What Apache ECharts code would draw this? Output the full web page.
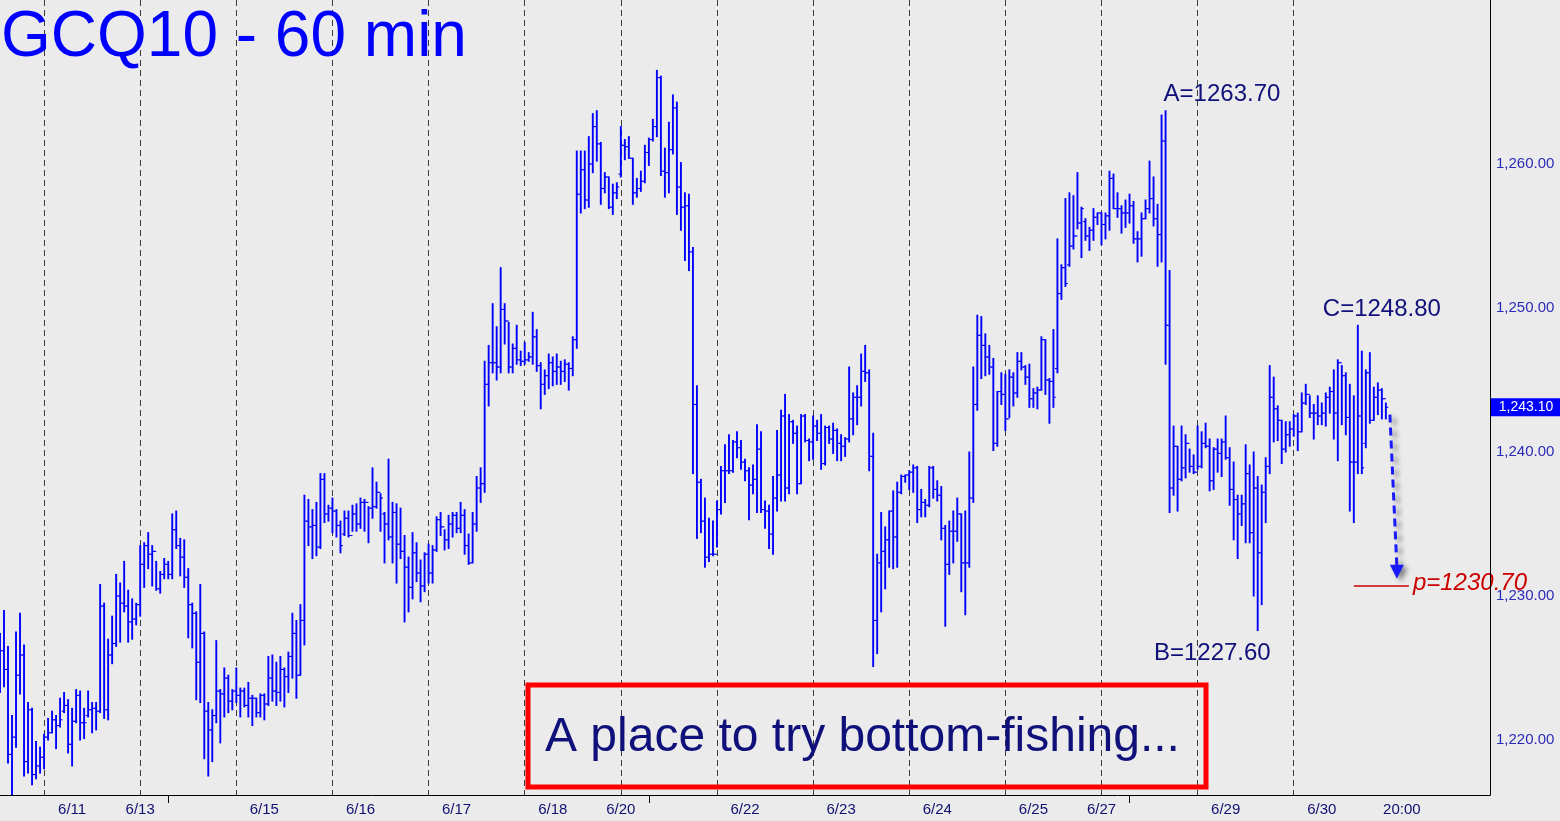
<!DOCTYPE html>
<html><head><meta charset="utf-8">
<script src="https://cdn.jsdelivr.net/npm/echarts@6/dist/echarts.min.js"></script>
<style>html,body{margin:0;padding:0;background:#ebebeb;}#chart{width:1560px;height:821px;}</style>
</head><body><div id="chart"></div>
<script>
// ---- data (hourly OHLC bars, index 0 = first visible bar) ----
const opens = [
1225.0,1226.2,1224.9,1219.0,1220.2,1224.5,1225.9,1218.5,1222.1,1217.6,
1218.2,1218.8,1220.2,1220.5,1221.4,1221.0,1222.0,1222.4,1219.7,1221.3,
1223.1,1221.2,1221.7,1222.1,1222.2,1222.0,1229.3,1222.1,1225.9,1226.7,
1230.0,1229.5,1229.3,1228.2,1228.4,1229.4,1232.2,1233.5,1232.9,1233.1,
1230.5,1231.5,1232.2,1231.5,1234.6,1233.5,1232.7,1231.3,1229.4,1228.8,
1225.4,1227.4,1222.0,1220.7,1221.7,1223.4,1223.2,1224.3,1222.7,1223.4,
1223.1,1223.4,1222.4,1222.9,1222.9,1221.9,1223.1,1222.5,1224.3,1223.4,
1223.3,1224.9,1224.4,1225.8,1227.4,1224.5,1228.3,1235.2,1234.8,1234.9,
1233.4,1238.1,1235.7,1236.1,1235.9,1234.9,1234.3,1235.4,1234.2,1235.7,
1235.0,1236.5,1236.5,1236.1,1236.2,1237.2,1235.7,1235.0,1234.1,1235.8,
1233.6,1233.1,1232.0,1230.6,1233.0,1231.6,1230.7,1232.9,1231.6,1233.2,
1235.3,1234.8,1233.9,1235.0,1235.6,1234.7,1235.6,1233.5,1232.3,1235.0,
1237.5,1237.8,1244.7,1246.2,1246.2,1245.9,1249.9,1249.1,1245.9,1247.2,
1246.4,1246.3,1246.4,1246.6,1248.0,1246.0,1244.7,1245.3,1246.2,1245.6,
1245.9,1245.6,1246.1,1245.8,1247.8,1257.9,1259.6,1257.5,1260.0,1262.6,
1261.4,1258.3,1259.1,1257.0,1258.0,1259.3,1261.3,1261.2,1260.4,1258.0,
1258.3,1258.8,1260.8,1261.7,1262.6,1266.0,1259.5,1259.4,1261.0,1263.9,
1258.4,1257.0,1257.1,1253.9,1243.3,1237.9,1235.2,1232.7,1232.9,1232.9,
1236.0,1238.7,1238.7,1238.7,1240.7,1240.3,1239.3,1238.7,1237.7,1238.1,
1240.2,1236.0,1235.9,1234.3,1236.8,1238.4,1242.5,1237.5,1242.1,1241.3,
1237.8,1242.5,1240.8,1240.7,1241.8,1241.3,1239.2,1241.7,1240.9,1241.5,
1240.6,1240.4,1240.9,1242.3,1243.8,1243.8,1245.6,1245.5,1239.7,1228.3,
1232.3,1233.1,1233.9,1235.9,1234.1,1237.2,1238.3,1238.4,1238.6,1238.9,
1236.0,1236.5,1236.3,1238.9,1237.4,1237.0,1234.7,1232.2,1234.5,1234.5,
1235.7,1232.3,1232.3,1236.8,1243.3,1248.1,1247.4,1246.6,1245.9,1240.6,
1244.2,1244.0,1242.3,1245.2,1244.1,1246.3,1245.9,1245.2,1243.7,1244.1,
1244.3,1247.8,1245.0,1244.9,1245.8,1251.0,1252.8,1253.0,1254.3,1255.0,
1255.9,1256.0,1255.0,1255.4,1256.3,1256.6,1255.8,1256.4,1259.0,1256.9,
1256.9,1256.6,1256.6,1257.1,1254.8,1254.8,1256.2,1256.9,1257.6,1256.2,
1255.1,1261.6,1248.8,1237.5,1240.4,1238.1,1238.9,1240.6,1239.0,1238.6,
1239.0,1240.6,1240.4,1238.0,1240.2,1239.9,1240.7,1239.6,1237.4,1236.7,
1235.7,1236.4,1238.5,1234.4,1237.5,1233.0,1237.2,1239.0,1243.8,1243.0,
1242.2,1240.2,1241.2,1241.6,1242.5,1241.4,1243.4,1244.0,1242.7,1242.7,
1242.5,1242.7,1243.8,1244.2,1242.7,1246.2,1245.3,1242.4,1239.3,1239.3,
1242.5,1240.6,1245.5,1242.2,1243.8,1244.3,1243.7];
const highs = [
1227.4,1229.0,1226.5,1221.7,1227.5,1228.8,1226.6,1222.6,1222.2,1219.9,
1219.5,1220.4,1221.5,1222.0,1221.7,1222.9,1223.3,1222.8,1222.2,1223.5,
1223.4,1222.2,1223.4,1222.6,1222.6,1230.8,1229.5,1227.0,1228.6,1231.5,
1230.9,1232.4,1230.4,1229.8,1229.5,1233.5,1233.7,1234.4,1233.5,1232.4,
1231.7,1232.6,1232.4,1235.7,1235.9,1234.0,1233.9,1231.9,1229.5,1228.9,
1230.8,1227.5,1222.6,1222.1,1226.9,1223.5,1225.0,1224.5,1223.5,1225.0,
1223.6,1223.6,1224.0,1223.1,1222.9,1223.2,1223.2,1225.8,1225.9,1225.4,
1225.8,1225.0,1226.1,1228.8,1228.3,1229.4,1237.0,1236.7,1236.0,1236.5,
1238.5,1238.5,1236.3,1236.8,1236.0,1235.2,1235.9,1235.9,1236.3,1236.4,
1236.8,1236.7,1236.2,1238.9,1237.9,1237.1,1235.8,1239.5,1236.5,1236.4,
1236.1,1234.2,1232.7,1234.4,1233.7,1232.5,1233.0,1233.6,1233.5,1235.5,
1235.8,1234.6,1235.6,1235.8,1235.8,1236.5,1236.0,1234.3,1235.8,1238.3,
1238.9,1246.3,1247.4,1250.3,1248.7,1252.8,1250.3,1249.0,1247.5,1248.8,
1247.0,1247.6,1246.9,1249.7,1248.5,1246.2,1245.7,1246.8,1246.6,1246.8,
1246.3,1246.4,1246.2,1248.0,1260.9,1260.9,1260.9,1261.9,1263.5,1263.7,
1261.5,1259.4,1259.1,1258.6,1258.7,1262.6,1261.7,1261.9,1260.4,1259.0,
1259.5,1261.3,1261.8,1263.1,1266.5,1266.1,1261.1,1262.9,1264.8,1264.3,
1260.1,1258.0,1257.9,1254.2,1244.6,1238.1,1236.8,1235.4,1235.2,1236.6,
1239.0,1240.5,1241.2,1240.8,1241.4,1240.8,1239.5,1238.9,1239.1,1241.9,
1241.4,1236.6,1236.3,1238.3,1241.5,1242.9,1244.0,1242.6,1242.2,1241.8,
1242.6,1242.6,1240.9,1242.5,1242.2,1242.6,1241.8,1241.8,1242.0,1241.6,
1241.2,1241.0,1245.9,1244.1,1244.6,1246.8,1247.4,1245.7,1241.3,1232.9,
1235.8,1234.8,1235.9,1237.3,1237.9,1238.4,1238.4,1238.7,1239.1,1239.0,
1237.4,1236.7,1239.0,1239.0,1238.0,1237.6,1234.9,1235.2,1235.9,1236.8,
1235.7,1235.9,1240.0,1245.9,1249.5,1249.4,1248.2,1247.4,1246.5,1244.2,
1245.5,1245.4,1245.7,1245.5,1246.9,1246.9,1246.0,1246.1,1244.4,1244.5,
1248.0,1247.8,1245.1,1248.5,1254.8,1253.0,1257.6,1258.0,1257.8,1259.4,
1257.0,1256.2,1255.6,1256.9,1256.6,1256.6,1256.6,1259.5,1259.3,1258.0,
1257.1,1257.5,1257.9,1257.4,1255.3,1256.6,1257.5,1260.2,1259.1,1257.2,
1263.4,1263.7,1252.6,1241.8,1240.4,1241.8,1241.2,1240.2,1239.8,1241.8,
1241.4,1242.0,1240.9,1240.3,1240.9,1240.9,1242.5,1240.3,1239.3,1237.0,
1237.0,1240.5,1239.1,1240.0,1238.3,1237.7,1239.6,1246.0,1245.2,1243.2,
1242.2,1242.1,1242.1,1242.6,1242.7,1244.1,1244.7,1243.9,1243.3,1243.9,
1243.4,1244.1,1244.5,1245.7,1246.4,1246.0,1245.5,1244.7,1243.9,1248.8,
1247.0,1245.7,1246.9,1244.5,1244.8,1244.4,1243.4];
const lows = [
1223.3,1223.7,1218.4,1216.2,1219.5,1223.2,1217.5,1217.7,1216.9,1217.3,
1217.7,1218.0,1220.0,1220.5,1219.4,1220.9,1221.9,1219.1,1218.2,1221.2,
1220.0,1220.1,1221.6,1220.5,1220.7,1221.9,1221.5,1221.4,1225.3,1226.5,
1226.8,1228.9,1226.8,1227.0,1228.0,1228.6,1230.6,1231.9,1230.7,1230.4,
1230.2,1231.2,1231.2,1231.2,1233.3,1231.4,1230.6,1227.1,1226.4,1222.8,
1222.6,1218.7,1217.5,1218.5,1221.2,1219.8,1221.6,1221.9,1222.1,1222.6,
1221.6,1222.3,1221.6,1221.0,1221.6,1221.6,1221.4,1222.4,1222.7,1222.4,
1222.7,1222.3,1223.3,1224.3,1222.9,1224.5,1226.6,1233.5,1232.6,1232.8,
1233.3,1235.1,1235.2,1234.4,1234.1,1233.0,1234.2,1234.1,1234.5,1234.5,
1234.7,1234.5,1233.7,1235.4,1236.1,1234.5,1232.3,1233.9,1232.3,1230.9,
1232.6,1228.2,1228.9,1229.8,1231.0,1229.6,1230.3,1230.9,1230.9,1233.1,
1234.2,1233.2,1233.3,1234.1,1234.4,1234.4,1232.9,1232.2,1232.3,1234.5,
1236.5,1237.2,1243.2,1245.5,1245.0,1245.5,1247.5,1245.5,1245.5,1246.1,
1246.0,1246.1,1246.3,1246.1,1245.6,1243.0,1244.0,1244.4,1244.6,1244.7,
1244.7,1244.9,1244.3,1245.3,1247.2,1256.6,1256.9,1257.0,1259.4,1260.2,
1257.2,1258.0,1256.9,1256.5,1257.6,1259.1,1260.3,1260.4,1257.2,1257.7,
1258.1,1258.7,1259.9,1261.6,1261.9,1259.2,1257.7,1258.0,1260.7,1256.5,
1255.4,1253.3,1252.6,1238.5,1234.0,1234.4,1232.0,1232.4,1232.8,1233.4,
1235.7,1236.5,1238.5,1238.6,1239.6,1238.8,1238.0,1235.3,1237.1,1235.8,
1235.8,1234.7,1233.3,1232.9,1235.9,1236.6,1236.6,1237.1,1240.6,1237.1,
1237.8,1240.7,1239.4,1239.5,1240.8,1238.8,1239.1,1240.6,1239.9,1239.4,
1239.4,1239.7,1240.7,1241.2,1241.9,1243.2,1244.9,1238.7,1225.1,1226.0,
1228.9,1230.5,1232.0,1231.9,1232.0,1237.1,1237.9,1237.4,1237.2,1235.1,
1235.5,1235.5,1236.2,1236.8,1236.6,1233.9,1227.9,1231.5,1232.3,1233.8,
1230.3,1228.7,1232.0,1236.5,1242.9,1245.1,1245.3,1245.4,1240.1,1240.4,
1243.3,1241.5,1242.4,1243.2,1243.8,1245.7,1244.7,1243.1,1243.1,1243.0,
1244.3,1244.0,1242.0,1243.1,1245.5,1250.6,1251.5,1252.9,1254.1,1255.5,
1253.5,1254.7,1254.0,1254.7,1255.8,1254.4,1254.8,1255.4,1256.9,1256.3,
1255.2,1255.6,1255.9,1254.5,1253.2,1253.6,1256.2,1256.6,1255.7,1252.9,
1253.2,1246.1,1235.8,1237.0,1235.9,1238.0,1238.2,1238.6,1238.5,1238.8,
1238.9,1240.3,1237.3,1237.4,1238.6,1238.3,1239.5,1236.3,1233.9,1232.6,
1234.9,1233.7,1233.7,1230.0,1227.6,1229.4,1235.1,1238.5,1240.7,1240.8,
1239.2,1240.0,1240.4,1241.1,1240.1,1241.4,1243.3,1242.4,1240.9,1241.9,
1241.9,1241.8,1242.7,1240.9,1239.4,1241.9,1241.2,1235.9,1235.1,1238.5,
1238.5,1240.3,1242.0,1242.2,1242.6,1242.3,1242.3];
const closes = [
1226.2,1224.9,1219.0,1220.2,1224.5,1225.9,1218.5,1222.1,1217.6,1218.2,
1218.8,1220.2,1220.5,1221.4,1221.0,1221.4,1222.4,1219.7,1221.3,1223.1,
1221.2,1221.2,1222.1,1222.2,1222.0,1229.3,1222.1,1225.9,1226.7,1230.0,
1229.5,1229.3,1228.2,1228.4,1229.4,1232.2,1233.5,1232.9,1233.1,1230.5,
1231.5,1232.2,1231.5,1234.6,1233.5,1232.7,1231.3,1229.4,1228.8,1225.4,
1227.4,1222.0,1220.7,1221.7,1223.4,1223.2,1224.3,1222.7,1223.4,1223.1,
1223.4,1222.4,1222.9,1222.9,1221.9,1223.1,1222.5,1224.3,1223.4,1223.3,
1224.9,1224.4,1225.8,1227.4,1224.5,1228.3,1235.2,1234.8,1234.9,1233.4,
1238.1,1235.7,1236.1,1235.9,1234.9,1233.5,1235.4,1234.2,1235.7,1235.0,
1236.5,1236.5,1236.1,1236.2,1237.2,1236.8,1235.0,1234.1,1235.8,1233.6,
1233.1,1232.0,1230.6,1233.0,1231.6,1230.7,1232.9,1231.6,1233.2,1235.3,
1234.8,1233.9,1235.0,1235.6,1234.7,1235.6,1233.5,1232.3,1235.0,1237.5,
1237.8,1244.7,1246.2,1246.2,1245.9,1249.9,1249.1,1245.9,1247.2,1246.4,
1246.3,1246.4,1246.6,1248.0,1246.0,1244.7,1245.3,1246.2,1245.6,1245.9,
1245.6,1246.1,1245.8,1247.8,1257.9,1259.6,1257.5,1260.0,1262.6,1261.4,
1258.3,1259.1,1257.0,1258.0,1258.4,1261.3,1261.2,1260.4,1258.0,1258.3,
1258.8,1260.8,1261.7,1262.6,1266.0,1259.5,1259.4,1261.0,1263.9,1258.4,
1257.0,1257.1,1253.9,1243.3,1237.9,1235.2,1232.7,1232.9,1232.9,1236.0,
1238.7,1238.7,1238.7,1240.7,1240.3,1239.3,1238.7,1237.7,1238.1,1240.2,
1236.0,1235.9,1234.3,1236.8,1238.4,1242.5,1237.5,1242.1,1241.3,1237.8,
1242.5,1240.8,1240.7,1241.8,1241.3,1239.2,1241.7,1240.9,1241.5,1240.6,
1240.4,1240.9,1242.3,1243.8,1243.8,1245.6,1245.5,1239.7,1228.3,1232.3,
1233.1,1233.9,1235.9,1234.1,1237.2,1238.3,1238.4,1238.6,1238.9,1236.0,
1236.5,1236.3,1238.9,1237.4,1237.0,1234.7,1232.2,1234.5,1234.5,1235.7,
1232.3,1232.3,1236.8,1243.3,1248.1,1247.4,1246.6,1245.9,1240.6,1244.2,
1244.0,1242.3,1245.2,1244.1,1246.3,1245.9,1245.2,1243.7,1244.1,1244.3,
1247.8,1245.0,1244.9,1243.8,1251.0,1252.8,1251.7,1254.3,1255.0,1255.9,
1256.9,1255.0,1255.4,1256.3,1256.6,1255.8,1256.4,1259.0,1256.9,1256.9,
1256.6,1256.6,1257.1,1254.8,1254.8,1256.2,1256.9,1257.6,1256.2,1255.1,
1261.6,1248.8,1237.5,1240.4,1238.1,1238.9,1240.6,1239.0,1238.6,1239.0,
1240.6,1240.4,1238.0,1240.2,1239.9,1240.7,1239.6,1237.4,1236.7,1235.7,
1236.4,1238.5,1234.4,1237.5,1233.0,1237.2,1239.0,1243.8,1243.0,1242.2,
1240.2,1241.2,1241.6,1242.5,1241.4,1243.4,1244.0,1242.7,1242.7,1242.5,
1242.7,1243.8,1244.2,1242.7,1246.2,1245.3,1242.4,1239.3,1239.3,1242.5,
1238.9,1245.5,1242.2,1243.8,1244.3,1243.7,1243.1];

const slotCount = 373;                       // hourly slots across the plot (incl. empty right margin)
const sessionLineIdx = [11,35,59,83,107,131,155,179,203,227,251,275,299,323];
const xLabelIdx  = [18,35,66,90,114,138,155,186,210,234,258,275,306,330,350];
const xLabelText = ['6/11','6/13','6/15','6/16','6/17','6/18','6/20','6/22','6/23','6/24','6/25','6/27','6/29','6/30','20:00'];
const weekTickIdx = [42,162,282];
const yTicks = [1220,1230,1240,1250,1260];
const yMin = 1216.18, yMax = 1271.39;
const lastPrice = 1243.10;
const noteA = {text:'A=1263.70', idx:291, value:1263.70};
const noteB = {text:'B=1227.60', idx:314, value:1227.60};
const noteC = {text:'C=1248.80', idx:339, value:1248.80};
const target = {text:'p=1230.70', value:1230.70, fromIdx:338, toIdx:351.75};
const arrowPts = {fromIdx:347, fromVal:1242.6, toIdx:348.75, toVal:1231.2};
const boxText = 'A place to try bottom-fishing...';

// ---- chart ----
const cats = Array.from({length: slotCount}, (_, i) => String(i));
const labelMap = {}; xLabelIdx.forEach((k, j) => labelMap[k] = xLabelText[j]);
const bars = highs.map((h, i) => [i, opens[i], h, lows[i], closes[i]]);
const fmt = v => v.toLocaleString('en-US', {minimumFractionDigits: 2, maximumFractionDigits: 2});
const isTick = v => yTicks.some(t => Math.abs(t - v) < 1e-6);

function renderBar(params, api) {
  const i = api.value(0);
  const pO = api.coord([i, api.value(1)]);
  const pH = api.coord([i, api.value(2)]);
  const pL = api.coord([i, api.value(3)]);
  const pC = api.coord([i, api.value(4)]);
  const x = pH[0];
  return {type: 'group', children: [
    {type: 'line', shape: {x1: x, y1: pH[1] - 0.5, x2: x, y2: pL[1] + 0.5}, style: {stroke: '#0000ff', lineWidth: 1.9}},
    {type: 'line', shape: {x1: x - 2.4, y1: pO[1], x2: x, y2: pO[1]}, style: {stroke: '#0000ff', lineWidth: 1.1}},
    {type: 'line', shape: {x1: x, y1: pC[1], x2: x + 2.4, y2: pC[1]}, style: {stroke: '#0000ff', lineWidth: 1.1}}
  ]};
}

const FONT = '"Liberation Sans", Arial, sans-serif';
const chart = echarts.init(document.getElementById('chart'));
chart.setOption({
  backgroundColor: '#ebebeb',
  animation: false,
  title: {text: 'GCQ10 - 60 min', left: 1, top: 6, padding: 0,
    textStyle: {color: '#0000ff', fontSize: 64, fontWeight: 'normal', fontFamily: FONT}},
  grid: {left: 0, top: 0, width: 1490, height: 795},
  xAxis: {
    type: 'category', data: cats, boundaryGap: false,
    axisLine: {lineStyle: {color: '#000', width: 1}},
    axisTick: {show: true, length: 8, interval: (i) => weekTickIdx.includes(i), lineStyle: {color: '#000'}},
    axisLabel: {interval: (i) => labelMap[i] !== undefined, formatter: (v, i) => labelMap[i] || '',
      color: '#101070', fontSize: 15, fontFamily: FONT, margin: 7},
    splitLine: {show: true, interval: (i) => sessionLineIdx.includes(i),
      lineStyle: {color: '#3a3a3a', width: 1, type: [6, 4]}}
  },
  yAxis: {
    type: 'value', position: 'right', min: yMin, max: yMax, scale: true,
    axisLine: {show: true, lineStyle: {color: '#000'}},
    axisTick: {show: false},
    splitLine: {show: false},
    axisLabel: {formatter: v => isTick(v) ? fmt(v) : '', color: '#2a2ab8', fontSize: 15, fontFamily: FONT, margin: 6,
      showMinLabel: false, showMaxLabel: false}
  },
  series: [{type: 'custom', renderItem: renderBar, data: bars, encode: {x: 0, y: [1, 2, 3, 4]}, clip: true}]
});

// ---- annotations anchored through the axes ----
const px = (i, v) => chart.convertToPixel({gridIndex: 0}, [i, v]);
const x0 = px(0, yMin)[0], x100 = px(100, yMin)[0];
const xAt = i => x0 + (x100 - x0) * i / 100;
const yAt = v => px(0, v)[1];
const noteStyle = {fill: '#10107a', font: '24px ' + FONT};
const g = [];
g.push({type: 'text', x: xAt(noteA.idx) - 2, y: yAt(noteA.value) - 16, style: Object.assign({text: noteA.text, textVerticalAlign: 'middle'}, noteStyle)});
g.push({type: 'text', x: xAt(noteB.idx) + 13, y: yAt(noteB.value) + 23, style: Object.assign({text: noteB.text, textAlign: 'right', textVerticalAlign: 'middle'}, noteStyle)});
g.push({type: 'text', x: xAt(noteC.idx) - 35, y: yAt(noteC.value) - 16, style: Object.assign({text: noteC.text, textVerticalAlign: 'middle'}, noteStyle)});
// target line + label
const ty = yAt(target.value);
g.push({type: 'line', shape: {x1: xAt(target.fromIdx), y1: ty, x2: xAt(target.toIdx), y2: ty}, style: {stroke: '#cc0000', lineWidth: 1.5}});
g.push({type: 'text', x: xAt(target.toIdx) + 4, y: ty - 3, style: {text: target.text, fill: '#cc0000', font: 'italic 24px ' + FONT, textVerticalAlign: 'middle'}});
// dashed projection arrow
const ax1 = xAt(arrowPts.fromIdx), ay1 = yAt(arrowPts.fromVal), ax2 = xAt(arrowPts.toIdx), ay2 = yAt(arrowPts.toVal);
g.push({type: 'line', shape: {x1: ax1, y1: ay1, x2: ax2, y2: ay2 - 12}, style: {stroke: '#1a1aff', lineWidth: 3, lineDash: [8, 5], shadowColor: 'rgba(0,0,0,0.45)', shadowBlur: 5, shadowOffsetX: 4, shadowOffsetY: 3}});
g.push({type: 'polygon', shape: {points: [[ax2 - 7, ay2 - 14], [ax2 + 7, ay2 - 14], [ax2, ay2]]}, style: {fill: '#1a1aff', shadowColor: 'rgba(0,0,0,0.45)', shadowBlur: 5, shadowOffsetX: 4, shadowOffsetY: 3}});
// last price marker on the price axis
const ly = yAt(lastPrice);
g.push({type: 'rect', shape: {x: 1491, y: ly - 9, width: 69, height: 18}, style: {fill: '#0000ff'}});
g.push({type: 'text', x: 1526, y: ly, style: {text: fmt(lastPrice), fill: '#ffffff', font: '14px ' + FONT, textAlign: 'center', textVerticalAlign: 'middle'}});
// comment box
g.push({type: 'rect', shape: {x: 528, y: 685, width: 678, height: 102}, style: {fill: 'none', stroke: '#ff0000', lineWidth: 5}});
g.push({type: 'text', x: 545, y: 738, style: {text: boxText, fill: '#10107a', font: '48px ' + FONT, textVerticalAlign: 'middle'}});
chart.setOption({graphic: g});
</script></body></html>
